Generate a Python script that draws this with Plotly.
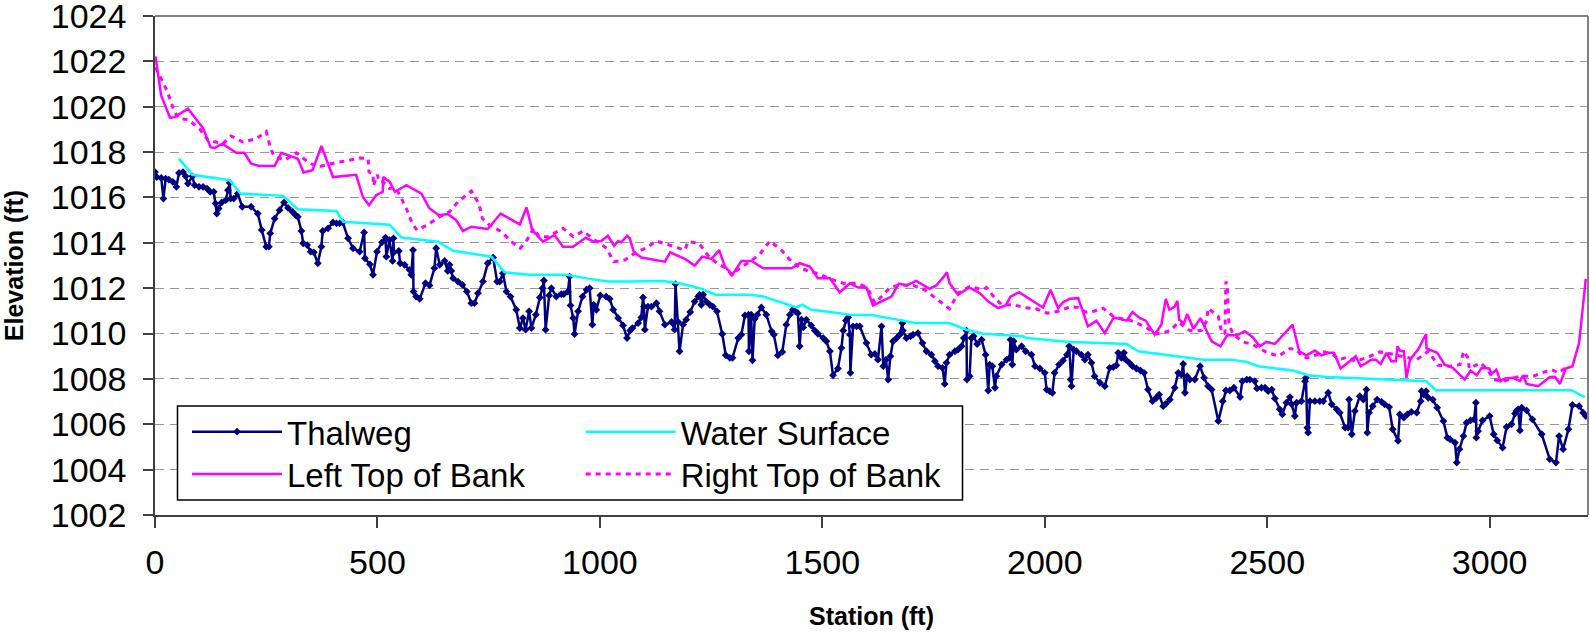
import plotly.graph_objects as go

# ---------------- data ----------------
thalweg_x = [0, 4, 14, 19, 24, 31, 40, 48, 54, 63, 69, 74, 84, 89, 99, 108, 117, 124, 132, 136, 139, 143, 150, 159, 164, 168, 170, 177, 186, 196, 216, 231, 240, 250, 256, 259, 269, 280, 290, 299, 309, 316, 321, 329, 333, 342, 350, 357, 366, 374, 377, 389, 400, 408, 415, 422, 434, 445, 460, 470, 472, 483, 490, 499, 510, 518, 520, 527, 534, 536,
             537, 548, 551, 561, 572, 576, 580, 581, 587, 595, 608, 617, 628, 632, 640, 651, 658, 662, 666, 670, 681, 691, 701, 711, 718, 726, 737, 748, 760, 769, 775, 782, 790, 799, 812, 820, 827, 833, 841, 846, 856, 865, 871, 874, 878, 886, 891, 902, 913, 919, 928, 932, 934, 940, 943, 951, 961, 970, 977, 983, 986, 992, 1001, 1014, 1022, 1030, 1041, 1052, 1061, 1068,
             1073, 1086, 1093, 1097, 1099, 1101, 1108, 1116, 1127, 1134, 1146, 1161, 1168, 1170, 1176, 1179, 1187, 1194, 1203, 1213, 1221, 1224, 1228, 1232, 1239, 1247, 1254, 1263, 1275, 1283, 1292, 1298, 1311, 1318, 1326, 1334, 1335, 1340, 1343, 1348, 1354, 1363, 1374, 1386, 1391, 1400, 1410, 1419, 1427, 1434, 1439, 1445, 1449, 1453, 1457, 1464, 1475, 1483, 1490, 1502, 1509, 1517, 1524, 1535, 1543, 1547, 1553, 1558, 1562, 1563, 1569, 1577, 1584, 1599, 1610,
             1618, 1625, 1633, 1637, 1643, 1648, 1653, 1659, 1667, 1674, 1680, 1681, 1689, 1698, 1704, 1715, 1725, 1734, 1745, 1753, 1760, 1770, 1775, 1779, 1786, 1798, 1805, 1813, 1818, 1824, 1825, 1831, 1835, 1840, 1848, 1858, 1867, 1873, 1876, 1882, 1888, 1891, 1903, 1914, 1921, 1923, 1927, 1930, 1936, 1948, 1957, 1970, 1978, 1989, 2000, 2004, 2011, 2017, 2022, 2032, 2041, 2050, 2055, 2058, 2060, 2065, 2071, 2082, 2090, 2097, 2105, 2112, 2124, 2135, 2146,
             2154, 2161, 2165, 2172, 2178, 2182, 2190, 2197, 2206, 2215, 2223, 2232, 2242, 2251, 2257, 2266, 2272, 2281, 2292, 2300, 2307, 2311, 2315, 2320, 2326, 2337, 2349, 2358, 2367, 2375, 2390, 2400, 2407, 2416, 2425, 2439, 2444, 2454, 2461, 2472, 2477, 2487, 2495, 2502, 2510, 2517, 2528, 2534, 2543, 2551, 2555, 2562, 2566, 2577, 2585, 2587, 2590, 2592, 2596, 2607, 2618, 2626, 2637, 2645, 2656, 2663, 2675, 2682, 2684, 2690,
             2697, 2708, 2716, 2723, 2725, 2729, 2737, 2747, 2757, 2764, 2774, 2782, 2794, 2798, 2807, 2815, 2824, 2836, 2845, 2847, 2852, 2857, 2862, 2872, 2882, 2896, 2905, 2911, 2922, 2926, 2932, 2941, 2948, 2957, 2965, 2969, 2970, 2974, 2984, 3000, 3009, 3017, 3029, 3038, 3049, 3057, 3060, 3064, 3068, 3072, 3083, 3096, 3117, 3135, 3149, 3156, 3165, 3177, 3186, 3201, 3210, 3216]
thalweg_y = [1017.12, 1016.90, 1016.86, 1015.95, 1016.83, 1016.79, 1016.69, 1016.47, 1017.08, 1017.12, 1016.93, 1016.61, 1016.93, 1016.54, 1016.47, 1016.47, 1016.39, 1016.25, 1016.25, 1015.73, 1015.29, 1015.51, 1015.78, 1015.88, 1016.32, 1016.64, 1015.95, 1015.95, 1016.17, 1015.59, 1015.59, 1015.29, 1014.56, 1013.83, 1013.83, 1014.42, 1015.07, 1015.44, 1015.78, 1015.54, 1015.37, 1015.22, 1015.15, 1014.52, 1013.98, 1013.90, 1013.61, 1013.58, 1013.10, 1013.83, 1014.52, 1014.64, 1014.90, 1014.86, 1014.86, 1014.90, 1014.20, 1013.76, 1013.61, 1014.46, 1013.32, 1013.05, 1012.59, 1013.61, 1014.02, 1014.23, 1013.39, 1014.12, 1013.20, 1014.20,
             1013.58, 1013.64, 1013.10, 1013.03, 1012.81, 1012.59, 1013.68, 1011.85, 1011.63, 1011.53, 1012.22, 1012.12, 1012.88, 1013.76, 1013.03, 1013.20, 1012.76, 1013.03, 1012.76, 1012.44, 1012.29, 1012.15, 1011.85, 1011.34, 1011.34, 1011.78, 1012.29, 1013.10, 1013.35, 1012.29, 1012.29, 1012.66, 1011.85, 1011.63, 1011.05, 1010.24, 1010.68, 1010.17, 1010.98, 1010.24, 1010.83, 1011.59, 1012.00, 1012.34, 1010.17, 1011.68, 1012.00, 1011.63, 1011.74, 1011.74, 1011.85, 1012.51, 1011.24, 1010.68, 1009.98, 1010.98, 1011.63, 1011.93, 1012.00, 1010.39, 1011.27, 1011.05, 1011.68, 1011.63, 1011.53, 1011.05, 1010.68, 1010.36, 1009.80, 1010.13,
             1010.24, 1010.46, 1010.71, 1011.59, 1011.19, 1010.17, 1011.19, 1011.19, 1011.34, 1010.98, 1010.39, 1010.51, 1010.17, 1012.18, 1010.51, 1009.22, 1010.39, 1010.61, 1010.95, 1011.41, 1011.63, 1011.71, 1011.27, 1011.71, 1011.41, 1011.27, 1011.19, 1010.98, 1009.98, 1009.04, 1008.93, 1008.93, 1009.80, 1009.95, 1010.80, 1010.83, 1009.22, 1010.83, 1008.82, 1010.65, 1010.83, 1011.15, 1010.83, 1010.10, 1009.95, 1009.04, 1009.19, 1010.39, 1010.83, 1011.05, 1010.98, 1010.90, 1009.44, 1010.61, 1010.27, 1010.61, 1010.36, 1010.13, 1009.99, 1009.80, 1009.66, 1009.22, 1008.16, 1008.46, 1009.36, 1010.13, 1010.57, 1010.71, 1009.95, 1008.27, 1010.32, 1010.32, 1010.32, 1009.58, 1009.07,
             1009.10, 1008.85, 1010.32, 1008.56, 1008.85, 1007.97, 1009.00, 1009.66, 1009.80, 1009.95, 1010.46, 1010.13, 1009.80, 1009.88, 1009.95, 1010.02, 1009.58, 1009.22, 1009.07, 1008.78, 1008.56, 1008.49, 1007.78, 1008.71, 1009.07, 1009.22, 1009.29, 1009.44, 1009.80, 1010.13, 1007.97, 1008.12, 1009.80, 1009.88, 1009.54, 1009.73, 1009.07, 1007.49, 1008.63, 1008.56, 1007.61, 1008.12, 1008.63, 1008.85, 1008.93, 1009.73, 1008.63, 1009.66, 1009.29, 1009.44, 1009.22, 1009.07, 1008.56, 1008.46, 1008.27, 1007.53, 1007.46, 1007.39, 1008.27, 1008.63, 1008.81, 1009.07, 1009.44, 1007.97, 1007.68, 1009.29, 1009.22, 1009.07, 1008.85, 1009.07, 1008.71, 1008.12, 1007.83, 1007.68, 1008.49,
             1008.52, 1008.60, 1009.15, 1008.93, 1009.15, 1008.85, 1008.71, 1008.56, 1008.46, 1008.37, 1008.27, 1007.53, 1007.02, 1007.17, 1007.31, 1006.80, 1006.90, 1007.09, 1007.61, 1008.27, 1008.19, 1008.66, 1007.39, 1008.12, 1007.97, 1007.97, 1008.56, 1008.05, 1007.68, 1007.53, 1006.14, 1007.02, 1007.49, 1007.49, 1007.61, 1007.20, 1007.90, 1007.97, 1007.97, 1007.90, 1007.58, 1007.61, 1007.61, 1007.46, 1007.53, 1007.14, 1006.66, 1006.44, 1006.95, 1007.20, 1006.88, 1006.36, 1006.95, 1007.02, 1007.90, 1008.05, 1005.85, 1005.63, 1007.02, 1007.02, 1007.02, 1007.02, 1007.39, 1006.88, 1006.66, 1006.51, 1005.85, 1005.85, 1007.09, 1005.56,
             1006.58, 1007.24, 1007.09, 1007.53, 1005.63, 1006.51, 1006.80, 1007.09, 1006.99, 1006.88, 1006.76, 1005.78, 1005.27, 1006.44, 1006.29, 1006.44, 1006.55, 1006.51, 1007.02, 1007.46, 1007.31, 1007.46, 1007.17, 1007.09, 1006.73, 1006.14, 1005.41, 1005.34, 1005.19, 1004.31, 1004.90, 1005.48, 1006.07, 1006.17, 1006.22, 1006.95, 1005.41, 1005.70, 1006.17, 1006.36, 1005.56, 1005.29, 1004.97, 1005.88, 1006.00, 1006.47, 1006.58, 1006.66, 1005.73, 1006.73, 1006.61, 1006.22, 1005.56, 1004.46, 1004.31, 1005.48, 1004.90, 1005.78, 1006.85, 1006.80, 1006.51, 1006.36]

water_x = [54, 84, 168, 192, 288, 321, 408, 423, 527, 554, 636, 670, 756, 786, 842, 925, 977, 1018, 1067, 1142, 1179, 1224, 1260, 1337, 1367, 1404, 1442, 1455, 1475, 1517, 1562, 1611, 1711, 1785, 1824, 1861, 1951, 1959, 2056, 2094, 2150, 2184, 2210, 2296, 2356, 2420, 2454, 2480, 2558, 2592, 2633, 2690, 2858, 2879, 3184, 3214]
water_y = [1017.71, 1017.00, 1016.76, 1016.17, 1016.07, 1015.48, 1015.40, 1014.93, 1014.80, 1014.23, 1014.05, 1013.65, 1013.39, 1012.70, 1012.59, 1012.59, 1012.41, 1012.29, 1012.30, 1012.32, 1012.22, 1012.00, 1011.71, 1011.71, 1011.63, 1011.38, 1011.15, 1011.27, 1011.05, 1010.95, 1010.83, 1010.82, 1010.46, 1010.46, 1010.17, 1009.99, 1009.88, 1009.80, 1009.63, 1009.61, 1009.56, 1009.54, 1009.22, 1009.00, 1008.85, 1008.85, 1008.75, 1008.56, 1008.37, 1008.16, 1008.08, 1008.04, 1007.90, 1007.50, 1007.50, 1007.20]

left_x = [1, 14, 34, 44, 74, 108, 125, 134, 151, 183, 201, 216, 235, 269, 284, 321, 334, 354, 374, 400, 452, 467, 481, 497, 512, 513, 527, 539, 565, 599, 616, 638, 658, 677, 692, 711, 748, 777, 820, 835, 848, 872, 898, 917, 940, 968, 986, 1003, 1018, 1032, 1041, 1048, 1061, 1067, 1076, 1093, 1146, 1158, 1191, 1213, 1230, 1251, 1268, 1281, 1298, 1318, 1341, 1367, 1431, 1449, 1472, 1490, 1517, 1539, 1562, 1580, 1599, 1614, 1655, 1672, 1689, 1711, 1741, 1756, 1773, 1780, 1786, 1805, 1830, 1854, 1873, 1895, 1912, 1923, 1942, 1963, 1996, 2013, 2030, 2041, 2056, 2075, 2097, 2116, 2135, 2155, 2184, 2197, 2214, 2227, 2247, 2262, 2272, 2280, 2292, 2298, 2302, 2313, 2320, 2334, 2350, 2375, 2395, 2410, 2431, 2450, 2468, 2483, 2498, 2517, 2536, 2557, 2572, 2588, 2607, 2622, 2637, 2650, 2665, 2686, 2699, 2710, 2734, 2744, 2755, 2768, 2779, 2789, 2793, 2798, 2807, 2813, 2821, 2839, 2857, 2858, 2882, 2899, 2917, 2944, 2957, 2971, 2982, 2999, 3004, 3015, 3024, 3034, 3053, 3068, 3075, 3083, 3109, 3135, 3147, 3158, 3171, 3186, 3201, 3216]
left_y = [1022.22, 1020.49, 1019.51, 1019.54, 1019.91, 1019.06, 1018.22, 1018.18, 1018.37, 1017.97, 1017.97, 1017.49, 1017.39, 1017.39, 1017.97, 1017.71, 1017.10, 1017.20, 1018.27, 1016.90, 1017.00, 1016.03, 1015.66, 1016.10, 1016.25, 1016.90, 1016.71, 1016.25, 1016.54, 1016.17, 1015.54, 1015.22, 1015.27, 1015.00, 1014.52, 1014.71, 1014.61, 1015.29, 1014.81, 1015.56, 1014.56, 1014.05, 1014.34, 1013.83, 1013.83, 1014.23, 1014.05, 1014.08, 1014.31, 1013.87, 1014.08, 1014.02, 1014.31, 1014.20, 1013.61, 1013.35, 1013.17, 1013.58, 1013.29, 1013.00, 1013.39, 1013.29, 1013.68, 1012.95, 1012.59, 1013.20, 1013.20, 1012.88, 1012.88, 1013.10, 1012.95, 1012.44, 1012.44, 1011.82, 1012.22, 1012.03, 1012.03, 1011.24, 1011.63, 1012.20, 1012.12, 1012.32, 1011.97, 1012.12, 1012.51, 1012.70, 1012.22, 1011.71, 1012.03, 1011.78, 1011.41, 1011.12, 1011.24, 1011.63, 1011.82, 1011.56, 1011.15, 1011.93, 1011.12, 1011.38, 1011.53, 1011.56, 1010.32, 1010.57, 1010.02, 1010.71, 1010.57, 1010.95, 1010.68, 1010.57, 1009.95, 1010.39, 1011.53, 1011.05, 1011.19, 1011.44, 1010.61, 1010.46, 1010.86, 1010.21, 1010.68, 1009.66, 1009.44, 1009.92, 1009.92, 1010.10, 1009.83, 1009.44, 1009.63, 1009.54, 1009.95, 1010.39, 1009.22, 1009.04, 1009.25, 1009.04, 1009.15, 1009.15, 1008.46, 1008.81, 1009.00, 1008.56, 1008.85, 1008.85, 1008.66, 1009.15, 1008.78, 1008.78, 1009.44, 1009.25, 1009.22, 1008.05, 1008.85, 1009.29, 1009.98, 1009.34, 1009.15, 1008.63, 1008.49, 1007.97, 1008.37, 1008.16, 1008.49, 1008.46, 1008.22, 1008.41, 1007.90, 1008.02, 1008.05, 1007.90, 1008.16, 1007.78, 1007.68, 1008.08, 1008.08, 1007.78, 1008.46, 1008.56, 1009.58, 1012.41]

right_x = [0, 4, 14, 27, 44, 55, 74, 100, 119, 153, 171, 198, 228, 250, 259, 267, 291, 318, 344, 366, 396, 423, 449, 462, 479, 481, 490, 491, 500, 504, 512, 527, 542, 550, 565, 578, 589, 614, 640, 662, 681, 711, 728, 736, 752, 779, 801, 821, 836, 851, 863, 883, 917, 940, 962, 985, 1015, 1031, 1056, 1078, 1105, 1127, 1161, 1191, 1198, 1223, 1245, 1263, 1284, 1296, 1314, 1337, 1359, 1382, 1408, 1425, 1449, 1468, 1494, 1517, 1547, 1577, 1601, 1618, 1633, 1652, 1674, 1704, 1730, 1740, 1764, 1786, 1805, 1831, 1861, 1869, 1885, 1903, 1929, 1953, 1980, 2005, 2030, 2058, 2075, 2092, 2105, 2131, 2157, 2190, 2225, 2251, 2283, 2300, 2326, 2352, 2364, 2367, 2390, 2397, 2405, 2407, 2410, 2414, 2424, 2446, 2468, 2497, 2525, 2551, 2566, 2581, 2596, 2626, 2645, 2663, 2680, 2697, 2723, 2753, 2779, 2836, 2847, 2862, 2884, 2911, 2933, 2942, 2952, 2954, 2980, 2997, 3009, 3032, 3068, 3098, 3124, 3139, 3154, 3173]
right_y = [1022.18, 1021.59, 1021.22, 1020.71, 1019.76, 1019.47, 1019.44, 1019.03, 1018.52, 1018.37, 1018.71, 1018.44, 1018.59, 1018.91, 1018.22, 1017.83, 1017.64, 1017.97, 1017.56, 1017.34, 1017.49, 1017.59, 1017.71, 1017.74, 1017.71, 1017.12, 1017.05, 1016.51, 1017.00, 1016.69, 1016.69, 1016.40, 1016.42, 1016.10, 1015.51, 1014.86, 1014.56, 1014.81, 1015.15, 1015.37, 1015.81, 1016.28, 1015.73, 1015.07, 1014.78, 1014.49, 1014.05, 1013.76, 1014.12, 1014.64, 1014.27, 1014.27, 1014.64, 1014.27, 1014.52, 1014.17, 1013.76, 1013.17, 1013.24, 1013.54, 1013.79, 1014.08, 1013.87, 1013.68, 1014.05, 1013.98, 1013.39, 1013.10, 1012.88, 1012.59, 1012.88, 1013.17, 1013.49, 1014.08, 1013.68, 1013.29, 1012.91, 1012.76, 1012.62, 1012.41, 1012.22, 1012.22, 1012.03, 1011.34, 1011.63, 1012.03, 1012.15, 1012.12, 1011.93, 1011.78, 1011.44, 1011.09, 1011.78, 1012.07, 1011.93, 1012.03, 1011.63, 1011.27, 1011.27, 1011.15, 1011.09, 1010.90, 1010.98, 1011.19, 1011.15, 1010.95, 1010.95, 1011.12, 1010.71, 1010.60, 1010.30, 1009.98, 1010.13, 1010.51, 1010.13, 1010.13, 1010.57, 1011.12, 1010.75, 1010.10, 1009.98, 1012.29, 1012.12, 1010.39, 1009.95, 1009.63, 1009.51, 1009.19, 1009.00, 1009.34, 1009.29, 1008.93, 1008.93, 1009.19, 1009.10, 1008.85, 1008.96, 1008.78, 1008.93, 1009.19, 1009.10, 1008.85, 1009.00, 1009.22, 1008.60, 1008.56, 1008.63, 1009.22, 1008.90, 1008.46, 1008.71, 1008.34, 1007.97, 1007.90, 1008.12, 1008.12, 1008.31, 1008.41, 1008.27, 1008.52]

x_ticks = [0, 500, 1000, 1500, 2000, 2500, 3000]
y_ticks = [1002, 1004, 1006, 1008, 1010, 1012, 1014, 1016, 1018, 1020, 1022, 1024]

FONT = "Arial, Liberation Sans, sans-serif"

fig = go.Figure()
fig.add_trace(go.Scatter(x=thalweg_x, y=thalweg_y, name="Thalweg", mode="lines+markers",
                         line=dict(color="#000080", width=2.5),
                         marker=dict(symbol="diamond", size=6, color="#000080"),
                         legend="legend"))
fig.add_trace(go.Scatter(x=water_x, y=water_y, name="Water Surface", mode="lines",
                         line=dict(color="#00FFFF", width=2.5), legend="legend2"))
fig.add_trace(go.Scatter(x=left_x, y=left_y, name="Left Top of Bank", mode="lines",
                         line=dict(color="#FF00FF", width=2.5), legend="legend3"))
fig.add_trace(go.Scatter(x=right_x, y=right_y, name="Right Top of Bank", mode="lines",
                         line=dict(color="#FF00FF", width=3, dash="5px,5px"), legend="legend4"))

L, R, T, B = 155, 2, 16, 118
W, H = 1590, 633
pw, ph = W - L - R, H - T - B

def px(x):
    return (x - L) / pw

def py(y):
    return (H - B - y) / ph

leg_common = dict(font=dict(family=FONT, size=33, color="black"), bgcolor="rgba(0,0,0,0)",
                  borderwidth=0, itemwidth=90, yanchor="middle", xanchor="left",
                  orientation="v", itemclick=False, itemdoubleclick=False)

fig.update_layout(
    width=W, height=H,
    margin=dict(l=L, r=R, t=T, b=B, autoexpand=False),
    paper_bgcolor="white", plot_bgcolor="white",
    font=dict(family=FONT, color="black"),
    showlegend=True,
    legend=dict(x=px(187), y=py(431.7), **leg_common),
    legend2=dict(x=px(580.7), y=py(431.7), **leg_common),
    legend3=dict(x=px(187), y=py(474), **leg_common),
    legend4=dict(x=px(580.7), y=py(474), **leg_common),
    xaxis=dict(range=[0, 3221], tickvals=x_ticks, ticktext=[str(v) for v in x_ticks],
               showgrid=False, zeroline=False, showline=True, linecolor="#404040", linewidth=1.5,
               ticks="outside", ticklen=11, tickwidth=1.5, tickcolor="#404040",
               tickfont=dict(family=FONT, size=34, color="black"), ticklabelstandoff=5,
               ticklabeloverflow="allow",
               title=dict(text="Station (ft)", font=dict(family=FONT, size=25, weight="bold", color="black"),
                          standoff=28)),
    yaxis=dict(range=[1002, 1024], tickvals=y_ticks, ticktext=[str(v) for v in y_ticks],
               showgrid=True, gridcolor="#999999", gridwidth=1, griddash="9px,6px",
               zeroline=False, showline=True, linecolor="#404040", linewidth=1.5,
               ticks="outside", ticklen=10, tickwidth=1.5, tickcolor="#404040",
               tickfont=dict(family=FONT, size=34, color="black"), ticklabelstandoff=10,
               ticklabeloverflow="allow",
               title=dict(text="Elevation (ft)", font=dict(family=FONT, size=25, weight="bold", color="black"),
                          standoff=20)),
    shapes=[
        dict(type="line", xref="paper", yref="paper", x0=0, x1=1, y0=1, y1=1,
             line=dict(color="#808080", width=2), layer="above"),
        dict(type="line", xref="paper", yref="paper", x0=1, x1=1, y0=0, y1=1,
             line=dict(color="#808080", width=2), layer="above"),
        dict(type="rect", xref="paper", yref="paper", x0=px(177.5), x1=px(962.5), y0=py(500), y1=py(406),
             line=dict(color="black", width=1.5), fillcolor="white", layer="above"),
    ],
)

fig.write_html("out.html", config={"displayModeBar": False},
               post_script="document.body.style.margin='0px';")
